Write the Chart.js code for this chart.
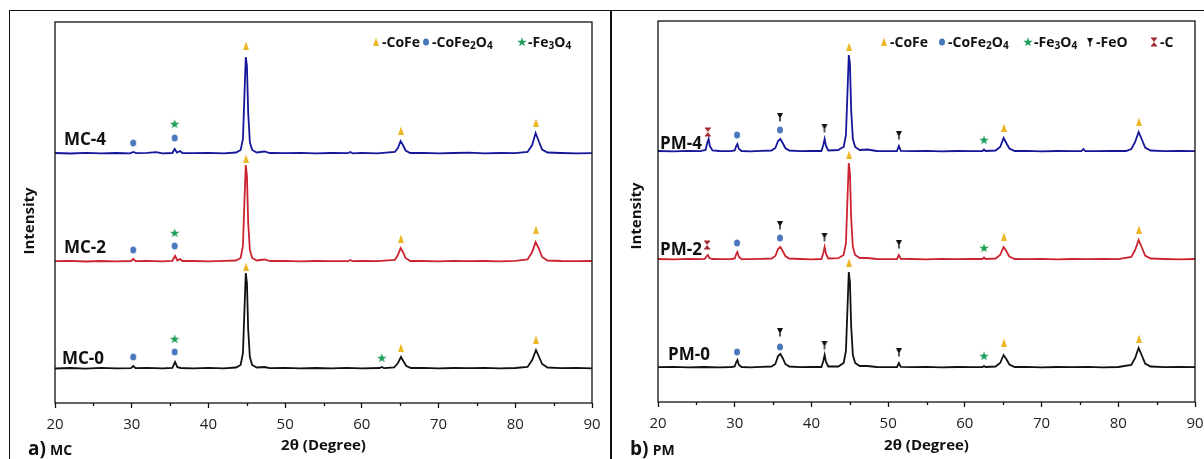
<!DOCTYPE html>
<html>
<head>
<meta charset="utf-8">
<script src="https://cdn.jsdelivr.net/npm/chart.js@4.4.1/dist/chart.umd.min.js"></script>
<style>
  body { margin: 0; background: #fff; width: 1204px; height: 459px; overflow: hidden; position: relative; font-family: "Open Sans", sans-serif; color: #111; }
  #frame { position: absolute; left: 9px; top: 10px; width: 1220px; height: 470px; border-top: 1.5px solid #111; border-left: 1.5px solid #111; }
  #divider { position: absolute; left: 610px; top: 10px; width: 1.5px; height: 449px; background: #111; }
  canvas.panel { position: absolute; }
  .lbl { position: absolute; font-weight: 700; white-space: nowrap; transform: translateY(-50%); line-height: 1; }
  .leg { position: absolute; display: flex; align-items: center; font-weight: 700; font-size: 14px; white-space: nowrap; height: 18px; line-height: 18px; }
  .leg sub { font-size: 0.72em; vertical-align: -0.2em; line-height: 0; }
  .ytitle { position: absolute; font-weight: 700; font-size: 15px; white-space: nowrap; transform: translate(-50%, -50%) rotate(-90deg); }
</style>
</head>
<body>
<div id="frame"></div>
<div id="divider"></div>
<canvas id="left" class="panel" width="600" height="448" style="left:10px;top:11px"></canvas>
<canvas id="right" class="panel" width="592" height="448" style="left:612px;top:11px"></canvas>

<div class="ytitle" style="left:28px;top:221px">Intensity</div>
<div class="ytitle" style="left:635px;top:216px">Intensity</div>

<div class="lbl" style="left:64px;top:138px;font-size:17px">MC-4</div>
<div class="lbl" style="left:64px;top:246px;font-size:17px">MC-2</div>
<div class="lbl" style="left:62px;top:357px;font-size:17px">MC-0</div>
<div class="lbl" style="left:660px;top:142px;font-size:17px">PM-4</div>
<div class="lbl" style="left:660px;top:248px;font-size:17px">PM-2</div>
<div class="lbl" style="left:668px;top:353px;font-size:17px">PM-0</div>

<div class="lbl" style="left:28px;top:448px"><span style="font-size:19px">a)</span> <span style="font-size:14px">MC</span></div>
<div class="lbl" style="left:630px;top:448px"><span style="font-size:19px">b)</span> <span style="font-size:14px">PM</span></div>

<script>
// x axis
const xMin = 20;
const xMax = 90;
const minorTicks = [25, 35, 45, 55, 65, 75, 85];

// XRD patterns, intensity above each curve's own baseline: [2theta, counts]
const mc0 = [[20,0.5],[22,1],[24,0.4],[26,1.1],[28,0.6],[29.9,0.9],[30.2,3],[30.5,0.8],[32,1.1],[34,0.6],[35.3,1.2],[35.65,7],[35.95,1.8],[36.4,1],[38,0.7],[40,1.2],[42,0.6],[43.6,1.5],[44.2,4],[44.5,16],[44.7,60],[44.87,96],[45.02,86],[45.18,40],[45.4,12],[45.7,4],[46.3,1.5],[47.3,2],[48,0.9],[50,1.2],[52,0.6],[54,1],[56,0.7],[58,1.1],[60,0.6],[62.3,1],[62.6,2],[62.9,0.8],[64.2,1.5],[64.7,6],[65.1,12],[65.4,8],[65.8,3],[66.4,1],[68,1.1],[70,0.6],[72,1],[74,0.8],[76,1.2],[78,0.6],[80,1],[81.6,2],[82.2,9],[82.7,19],[83.1,12],[83.5,5],[84.2,1.5],[86,0.8],[88,1.1],[90,0.7]];
const mc2 = [[20,0.8],[22,1.2],[24,0.5],[26,1],[28,0.7],[29.9,1],[30.2,3],[30.5,0.9],[32,1.1],[34,0.6],[35.3,1.2],[35.65,6],[35.95,1.5],[36.3,3],[36.6,1],[38,1],[40,0.6],[42,1.2],[43.6,1.5],[44.2,4],[44.5,16],[44.7,62],[44.87,97],[45.02,86],[45.18,40],[45.4,12],[45.7,4],[46.3,1.5],[47.3,2.5],[48,1],[50,1.2],[52,0.6],[54,1],[56,0.8],[58.2,0.8],[58.5,2],[58.8,0.8],[60,1],[62,0.8],[64.3,2],[64.7,7],[65.05,14],[65.35,10],[65.7,4],[66.3,1],[68,1],[70,0.7],[72,1.2],[74,0.8],[76,1],[78,0.6],[80,1.1],[81.6,2.5],[82.2,10],[82.65,20],[83.1,13],[83.5,5],[84.2,1.5],[86,1],[88,0.8],[90,1]];
const mc4 = [[20,1],[22,0.5],[24,1.2],[26,0.6],[28,1],[29.8,0.7],[30.2,2],[30.6,0.8],[32,1.2],[33.2,1.8],[34,0.7],[35.3,1],[35.6,5],[35.9,1.5],[36.3,3],[36.6,1],[38,0.8],[40,1.2],[42,0.6],[43.6,1.5],[44.2,4],[44.5,15],[44.7,60],[44.87,97],[45.02,88],[45.18,42],[45.4,12],[45.7,4],[46.3,1.5],[47.3,2.5],[48,1],[50,0.8],[52,1.2],[54,0.6],[56,1],[58.2,0.8],[58.5,2],[58.8,0.7],[60,1.2],[62,0.6],[64.3,2],[64.7,6],[65.05,13],[65.35,9],[65.7,3.5],[66.3,1],[68,1.2],[70,0.6],[72,1],[74,1.3],[76,0.7],[78,1],[80,0.8],[81.6,2],[82.2,9],[82.65,21],[83.1,12],[83.5,4.5],[84.2,1.5],[86,1],[88,0.6],[90,0.8]];

const pm0 = [[20,0.8],[22,1.1],[24,0.6],[26,1],[28,0.7],[29.6,1],[30.0,1.5],[30.2,6],[30.35,8],[30.55,3],[30.9,1],[32,0.7],[33.5,1.1],[34.8,1.5],[35.3,4],[35.65,12],[35.95,14],[36.25,10],[36.6,4],[37.1,1.5],[38.5,0.8],[40,1.1],[41.3,1],[41.55,7],[41.72,13],[41.9,6],[42.2,1.5],[43.5,1.5],[44.2,5],[44.5,17],[44.7,60],[44.87,96],[45.02,86],[45.18,42],[45.4,13],[45.7,5],[46.3,2],[47.3,2],[48.5,1],[50,0.8],[51.15,1],[51.4,5],[51.65,1.2],[53,0.8],[55,1.1],[57,0.6],[59,1],[61,0.8],[62.3,1],[62.5,2],[62.7,1],[64,1.5],[64.6,5],[65.05,13],[65.4,9],[65.8,3.5],[66.5,1],[68,1.1],[70,0.7],[72,1],[74,0.8],[76,1.1],[78,0.7],[80,1],[81.7,3],[82.2,10],[82.65,20],[83.1,12],[83.5,4.5],[84.2,1.5],[86,0.8],[88,1.1],[90,0.8]];
const pm2 = [[20,1],[22,0.6],[24,1.1],[25.6,0.8],[26.1,1.2],[26.35,4],[26.5,5],[26.7,2],[27.1,1],[28,0.8],[29.6,1],[30.0,1.5],[30.2,6],[30.35,8],[30.55,3],[30.9,1],[32,0.8],[33.5,1.2],[34.8,1.5],[35.3,4],[35.65,11],[35.95,13],[36.25,9],[36.6,4],[37.1,1.5],[38.5,1],[40,0.7],[41.3,1],[41.55,7],[41.72,13],[41.9,6],[42.2,1.5],[43.5,1.8],[44.2,5],[44.5,17],[44.7,62],[44.87,97],[45.02,87],[45.18,42],[45.4,13],[45.7,5],[46.3,2],[47.3,2],[48.5,1],[50,0.8],[51.15,1],[51.4,5],[51.65,1.2],[53,1],[55,0.7],[57,1.1],[59,0.8],[61,1],[62.3,1],[62.5,2.5],[62.7,1],[64,1.5],[64.6,5],[65.05,13],[65.4,9],[65.8,3.5],[66.5,1],[68,0.8],[70,1.1],[72,0.7],[74,1],[76,0.8],[78,1.1],[80,0.9],[81.7,3],[82.2,10],[82.65,20],[83.1,12],[83.5,4.5],[84.2,1.5],[86,1],[88,0.7],[90,1]];
const pm4 = [[20,1],[22,0.6],[24,1.2],[25.5,0.8],[26.2,2],[26.45,10],[26.6,13],[26.75,6],[27.1,1.5],[28,1],[29.5,0.8],[30.0,1.5],[30.2,6],[30.35,8],[30.55,3],[30.9,1],[32,0.6],[33.5,1.2],[34.8,1.5],[35.3,4],[35.65,11],[35.95,13],[36.25,9],[36.6,4],[37.1,1.5],[38.5,0.8],[40,1.2],[41.3,1],[41.55,7],[41.72,13],[41.9,6],[42.2,1.5],[43.5,2],[43.9,4],[44.2,5],[44.5,17],[44.7,60],[44.87,97],[45.02,88],[45.18,42],[45.4,13],[45.7,5],[46.3,2],[47.3,2.5],[48.5,1],[50,0.8],[51.15,1],[51.4,6],[51.65,1.2],[53,0.8],[55,1.2],[57,0.6],[59,1],[61,0.8],[62.3,1],[62.5,2.5],[62.7,1],[64,1.5],[64.6,5],[65.05,14],[65.4,9],[65.8,3.5],[66.5,1],[68,1.2],[70,0.7],[72,1],[74,0.8],[75.2,1],[75.45,3],[75.7,1],[77,0.8],[79,1.2],[81,1],[81.7,3],[82.2,10],[82.65,20],[83.1,12],[83.5,4.5],[84.2,1.5],[86,0.8],[88,1.1],[90,0.8]];

// vertical offsets used to stack the patterns
const mcOffsets = [34, 141, 249];
const pmOffsets = [34, 142, 250];

// phase markers [2theta, height on the stacked scale]
const mcCoFe = [[44.9,357],[65.1,272],[82.7,280],[44.9,244],[65.1,164],[82.7,173],[44.9,136],[65.1,55],[82.7,63]];
const mcCoFe2O4 = [[30.2,260],[35.6,265],[30.2,153],[35.6,157],[30.2,46],[35.6,51]];
const mcFe3O4 = [[35.6,279],[35.6,170],[35.6,64],[62.6,45]];

const pmCoFe = [[44.9,355],[65.1,274],[82.7,280],[44.9,247],[65.1,165],[82.7,172],[44.9,139],[65.1,59],[82.7,63]];
const pmCoFe2O4 = [[30.3,267],[35.9,272],[30.3,159],[35.9,164],[30.3,50],[35.9,55]];
const pmFe3O4 = [[62.5,262],[62.5,154],[62.5,46]];
const pmFeO = [[35.9,285],[41.7,274],[51.4,267],[35.9,177],[41.7,165],[51.4,158],[35.9,70],[41.7,57],[51.4,50]];
const pmC = [[26.5,270],[26.4,157]];

const lineColors = ['#111111', '#cc2330', '#15169a'];

// small marker glyphs
function icon(kind) {
    const c = document.createElement('canvas');
    c.width = 12; c.height = 12;
    const g = c.getContext('2d');
    g.beginPath();
    if (kind === 'tri') {
        g.fillStyle = '#ecb726';
        g.moveTo(6, 1.5); g.lineTo(9, 10); g.lineTo(3, 10);
    } else if (kind === 'circ') {
        g.fillStyle = '#4a78be';
        g.ellipse(6, 6, 3, 3.6, 0, 0, Math.PI * 2);
    } else if (kind === 'star') {
        g.fillStyle = '#22a05a';
        for (let i = 0; i < 10; i++) {
            const r = i % 2 ? 2 : 5;
            const a = -Math.PI / 2 + i * Math.PI / 5;
            g.lineTo(6 + r * Math.cos(a), 6.3 + r * Math.sin(a));
        }
    } else if (kind === 'feo') {
        g.fillStyle = '#111';
        g.moveTo(3, 2); g.lineTo(9, 2); g.lineTo(6, 8);
        g.rect(5.3, 7, 1.4, 3.5);
    } else if (kind === 'c') {
        g.fillStyle = '#a0282e';
        g.rect(3, 1.5, 6, 1.3);
        g.rect(3, 9.2, 6, 1.3);
        g.moveTo(3.6, 2.8); g.lineTo(8.4, 2.8); g.lineTo(6, 6); g.lineTo(8.4, 9.2); g.lineTo(3.6, 9.2); g.lineTo(6, 6);
    }
    g.closePath();
    g.fill();
    return c;
}

const boxPlugin = {
    id: 'box',
    afterDraw(chart) {
        const { ctx, chartArea: a, scales: { x } } = chart;
        ctx.save();
        ctx.strokeStyle = '#111';
        ctx.lineWidth = 1.3;
        ctx.strokeRect(a.left, a.top, a.right - a.left, a.bottom - a.top);
        minorTicks.forEach(v => {
            const px = Math.round(x.getPixelForValue(v)) + 0.5;
            ctx.beginPath();
            ctx.moveTo(px, a.bottom);
            ctx.lineTo(px, a.bottom + 3);
            ctx.stroke();
        });
        ctx.restore();
    }
};

function toPts(arr, off) {
    return arr.map(p => ({ x: p[0], y: p[1] + (off || 0) }));
}

function makePanel(id, curves, offsets, markers, padRight, padTop, xHeight, yWidth) {
    const datasets = [];
    curves.forEach((c, i) => {
        datasets.push({ data: toPts(c, offsets[i]), borderColor: lineColors[i], borderWidth: 1.8, pointRadius: 0, showLine: true, order: 2 });
    });
    markers.forEach(m => {
        datasets.push({ data: toPts(m[1]), pointStyle: icon(m[0]), pointRadius: 6, showLine: false, order: 1 });
    });
    return new Chart(document.getElementById(id), {
        type: 'scatter',
        data: { datasets: datasets },
        options: {
            responsive: false,
            animation: false,
            layout: { padding: { left: 0, top: padTop, right: padRight, bottom: 0 } },
            scales: {
                x: {
                    type: 'linear',
                    min: xMin,
                    max: xMax,
                    ticks: { stepSize: 10, font: { family: 'Open Sans', size: 15 }, color: '#222', padding: 8, maxRotation: 0 },
                    grid: { drawOnChartArea: false, tickLength: 5, color: '#111', tickWidth: 1.3 },
                    border: { display: false },
                    title: { display: true, text: '2θ (Degree)', font: { family: 'Open Sans', size: 15, weight: 'bold' }, color: '#111', padding: { top: 0, bottom: 4 } },
                    afterFit: s => { s.height = xHeight; s.paddingLeft = 0; s.paddingRight = 0; }
                },
                y: {
                    min: 0,
                    max: 381,
                    ticks: { display: false },
                    grid: { display: false },
                    border: { display: false },
                    afterFit: s => { s.width = yWidth; }
                }
            },
            plugins: { legend: { display: false }, tooltip: { enabled: false } }
        },
        plugins: [boxPlugin]
    });
}

makePanel('left', [mc0, mc2, mc4], mcOffsets,
    [['tri', mcCoFe], ['circ', mcCoFe2O4], ['star', mcFe3O4]], 18, 11, 56, 45);
makePanel('right', [pm0, pm2, pm4], pmOffsets,
    [['tri', pmCoFe], ['circ', pmCoFe2O4], ['star', pmFe3O4], ['feo', pmFeO], ['c', pmC]], 9, 10, 57, 46);

// phase legends
function legendItem(x, kind, html) {
    const d = document.createElement('div');
    d.className = 'leg';
    d.style.left = (x - 6) + 'px';
    d.style.top = '33px';
    d.appendChild(icon(kind));
    const s = document.createElement('span');
    s.innerHTML = html;
    d.appendChild(s);
    document.body.appendChild(d);
}
legendItem(376, 'tri', '-CoFe');
legendItem(426, 'circ', '-CoFe<sub>2</sub>O<sub>4</sub>');
legendItem(522, 'star', '-Fe<sub>3</sub>O<sub>4</sub>');
legendItem(884, 'tri', '-CoFe');
legendItem(942, 'circ', '-CoFe<sub>2</sub>O<sub>4</sub>');
legendItem(1028, 'star', '-Fe<sub>3</sub>O<sub>4</sub>');
legendItem(1090, 'feo', '-FeO');
legendItem(1154, 'c', '-C');
</script>
</body>
</html>
